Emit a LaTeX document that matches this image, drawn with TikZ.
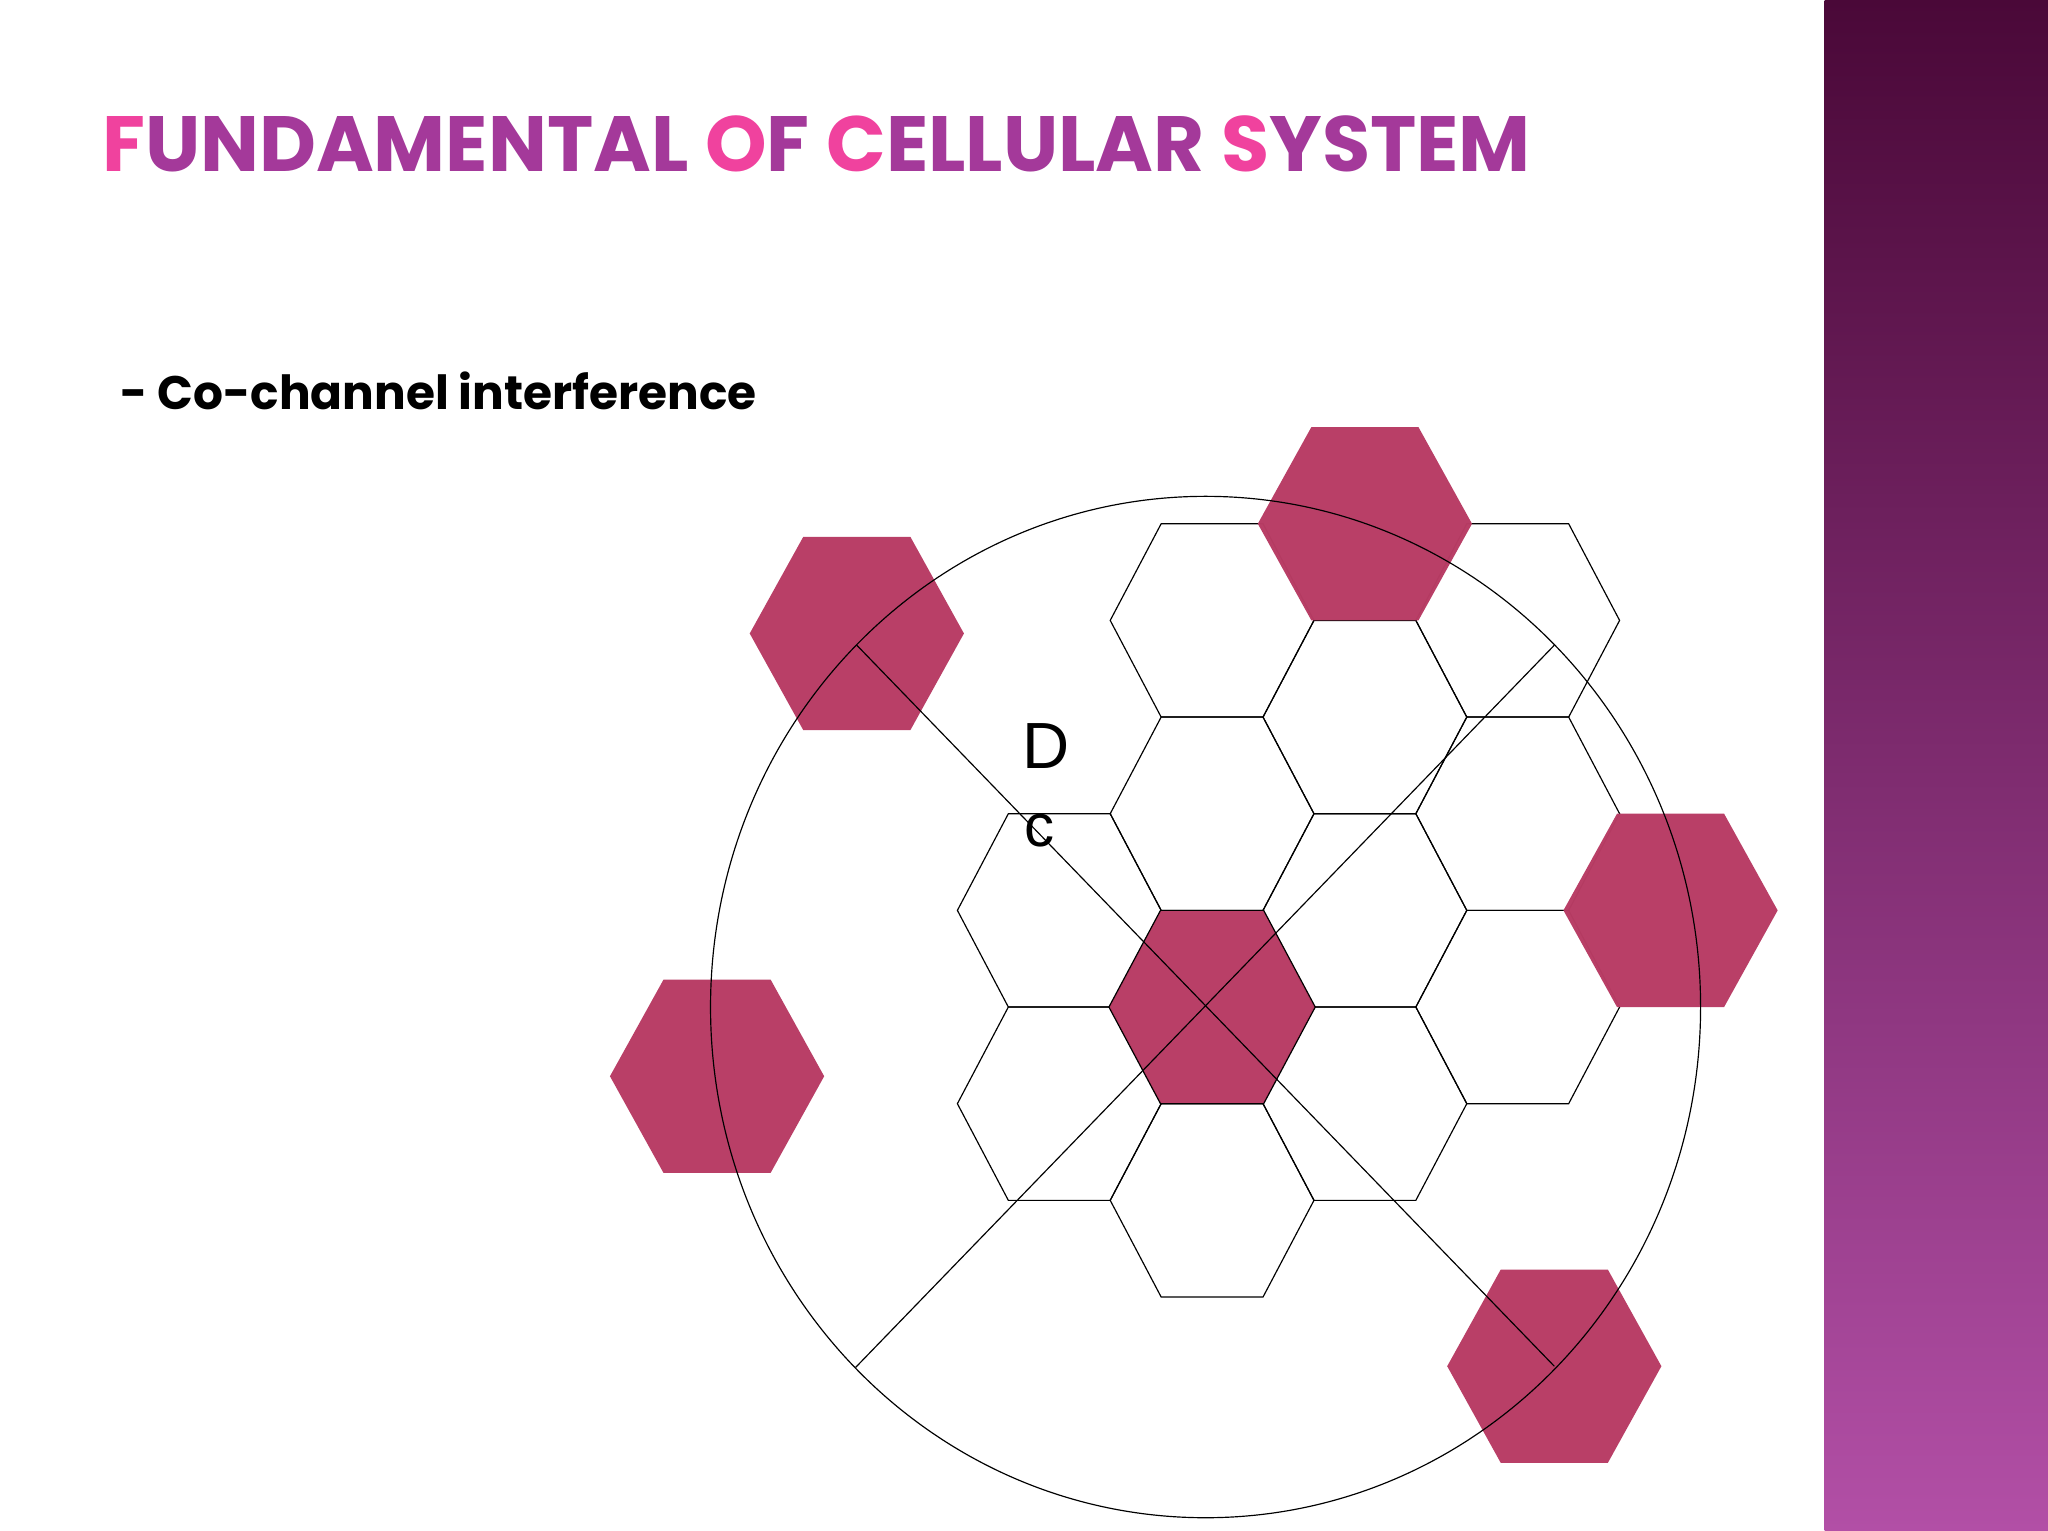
\documentclass[tikz,border=0pt]{standalone}
\usepackage{fontspec}
\setmainfont{Poppins}
\newfontfamily\arialf{Liberation Sans}
\definecolor{pinkt}{HTML}{F0429E}
\definecolor{purpt}{HTML}{A4399A}
\definecolor{hexfill}{HTML}{B83C64}
\definecolor{bandtop}{HTML}{4A0838}
\definecolor{bandbot}{HTML}{B24FA6}
\newcommand\myhex[4]{\draw[#4] (#1-#3,#2) -- (#1-#3/2,#2-74) -- (#1+#3/2,#2-74) -- (#1+#3,#2) -- (#1+#3/2,#2+74) -- (#1-#3/2,#2+74) -- cycle;}
\begin{document}
\begin{tikzpicture}[x=1pt,y=-1pt]
\useasboundingbox (0,0) rectangle (1568,1172);
\fill[white] (0,0) rectangle (1568,1172);
\shade[top color=bandtop,bottom color=bandbot] (1397,0) rectangle (1568,1172);
\tikzset{wh/.style={draw=black,line width=0.9pt,fill=none},fl/.style={draw=none,fill=hexfill,fill opacity=0.98}}
% white grid
\myhex{928}{623}{78}{wh}
\myhex{928}{919}{78}{wh}
\myhex{811}{697}{78}{wh}
\myhex{811}{845}{78}{wh}
\myhex{1045}{697}{78}{wh}
\myhex{1045}{845}{78}{wh}
\myhex{928}{475}{78}{wh}
\myhex{1045}{549}{78}{wh}
\myhex{1162}{475}{78}{wh}
\myhex{1162}{623}{78}{wh}
\myhex{1162}{771}{78}{wh}
% filled
\myhex{928}{771}{79}{fl}
\myhex{1045}{401}{82}{fl}
\myhex{1279}{697}{82}{fl}
\myhex{656}{485}{82}{fl}
\myhex{549}{824}{82}{fl}
\myhex{1190}{1046}{82}{fl}
\myhex{928}{771}{79}{draw=black,line width=0.9pt}
% circle and lines
\draw[line width=0.9pt] (923,771) ellipse [x radius=379,y radius=391];
\coordinate (a1) at (656,494); \coordinate (a2) at (1190,1046);
\coordinate (b1) at (655,1047); \coordinate (b2) at (1190,494);
\draw[line width=0.9pt] (a1) -- (a2);
\draw[line width=0.9pt] (b1) -- (b2);
\node[font=\arialf\fontsize{50}{50}\selectfont] (D) at (801,571) {D};
\node[font=\arialf\fontsize{46}{46}\selectfont] (c) at (796,636) {c};
% title
\node[anchor=west,inner sep=0,font=\fontsize{60}{60}\selectfont\bfseries] (title) at (78,110)
 {\textcolor{pinkt}{F}\textcolor{purpt}{UNDAMENTAL} \textcolor{pinkt}{O}\textcolor{purpt}{F} \textcolor{pinkt}{C}\textcolor{purpt}{ELLULAR} \textcolor{pinkt}{S}\textcolor{purpt}{YSTEM}};
\node[anchor=west,inner sep=0,font=\fontsize{36}{36}\selectfont\bfseries] (sub) at (92,299) {- Co-channel interference};
\end{tikzpicture}
\end{document}
